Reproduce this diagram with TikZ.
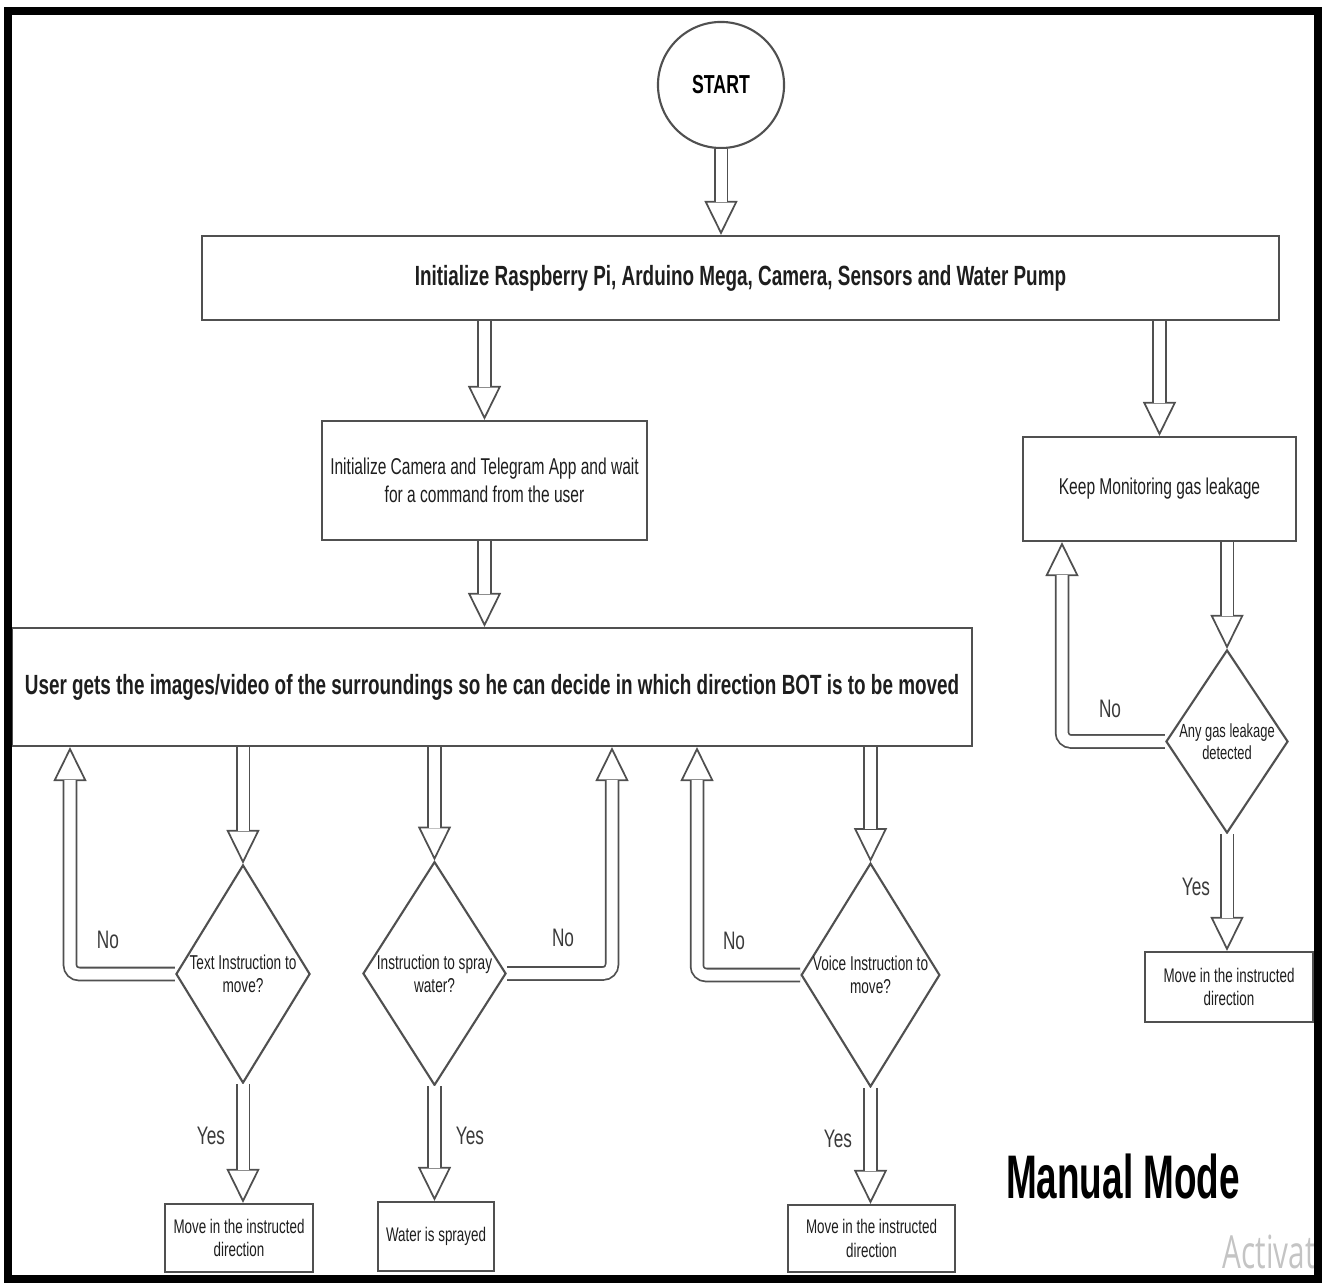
\documentclass[tikz,border=0pt]{standalone}
\usepackage{fontspec}
\setmainfont[FakeStretch=0.68]{Liberation Sans}
\newfontfamily\modefont[FakeStretch=0.6]{Liberation Sans}
\newfontfamily\wmfont[FakeStretch=0.65]{Open Sans}
\usetikzlibrary{arrows.meta,calc,positioning,shapes.geometric}
\definecolor{FlowLine}{HTML}{505050}
\definecolor{FlowText}{HTML}{1E1E1E}
\definecolor{FlowLabel}{HTML}{3A3A3A}
\definecolor{WinMark}{HTML}{C4C4C4}

% hollow block arrow: open head first, then the double shaft over its centre line
\newcommand{\hollowarrow}[1]{%
  \draw[pipehead] #1;
  \draw[pipeshaft] #1;}

\begin{document}
\begin{tikzpicture}[
  x=0.01cm,y=-0.01cm,
  pipehead/.style={-{Triangle[length=3.4mm,width=3.3mm,fill=white]},
    draw=FlowLine,line width=0.5pt,rounded corners=0.9mm},
  pipeshaft/.style={draw=FlowLine,line width=0.5pt,double=white,
    double distance=1.1mm,shorten >=3.3mm,rounded corners=0.9mm},
  procbox/.style={draw=FlowLine,line width=0.6pt,fill=white,align=center,
    text=FlowText,inner sep=0pt},
  headbox/.style={procbox,font=\bfseries\fontsize{7.9}{9.5}\selectfont},
  stepbox/.style={procbox,font=\fontsize{6.5}{8}\selectfont},
  endbox/.style={procbox,font=\fontsize{5.6}{6.7}\selectfont},
  query/.style={diamond,draw=FlowLine,line width=0.6pt,aspect=0.62,
    inner sep=0pt,align=center,text=FlowText,
    font=\fontsize{5.7}{6.6}\selectfont},
  answer/.style={font=\fontsize{7.2}{8}\selectfont,text=FlowLabel},
  startnode/.style={circle,draw=FlowLine,line width=0.6pt,minimum size=1.26cm,
    inner sep=0pt,font=\bfseries\fontsize{7.4}{9}\selectfont}
]
\useasboundingbox (0,0) rectangle (1325,1283);

% set-up stage
\node[startnode] (start) at (721,85) {START};
\node[headbox,minimum width=10.77cm,minimum height=0.84cm] (init) at (740.5,278)
  {Initialize Raspberry Pi, Arduino Mega, Camera, Sensors and Water Pump};
\node[stepbox,minimum width=3.25cm,minimum height=1.19cm] (telegram) at (484.5,480.5)
  {Initialize Camera and Telegram App and wait\\for a command from the user};
\node[stepbox,minimum width=2.73cm,minimum height=1.04cm] (monitor) at (1159.5,489)
  {Keep Monitoring gas leakage};
\node[headbox,minimum width=9.60cm,minimum height=1.18cm] (view) at (492,687)
  {User gets the images/video of the surroundings so he can decide in which direction BOT is to be moved};

% decisions
\node[query,minimum width=1.34cm,minimum height=2.18cm] (text) at (243,974)
  {Text Instruction to\\move?};
\node[query,minimum width=1.43cm,minimum height=2.23cm] (spray) at (434.5,973.5)
  {Instruction to spray\\water?};
\node[query,minimum width=1.35cm,minimum height=2.20cm] (voice) at (870.5,975)
  {Voice Instruction to\\move?};
\node[query,aspect=0.67,inner sep=-1.5pt,font=\fontsize{5.4}{6.4}\selectfont,
  minimum width=1.22cm,minimum height=1.83cm] (gas) at (1227,741.5)
  {Any gas leakage\\detected};

% outcomes
\node[endbox,minimum width=1.48cm,minimum height=0.68cm] (movetext) at (239,1238)
  {Move in the instructed\\direction};
\node[endbox,minimum width=1.16cm,minimum height=0.69cm] (water) at (436,1236.5)
  {Water is sprayed};
\node[endbox,minimum width=1.67cm,minimum height=0.67cm] (movevoice) at (871.5,1238.5)
  {Move in the instructed\\direction};
\node[endbox,minimum width=1.68cm,minimum height=0.70cm] (movegas) at (1229,987)
  {Move in the instructed\\direction};

\coordinate (backtext) at (70,0 |- view.south);
\coordinate (backspray) at (612,0 |- view.south);
\coordinate (backvoice) at (697,0 |- view.south);
\coordinate (backgas) at (1062,0 |- monitor.south);

\hollowarrow{(start.south) -- (start.south |- init.north)}
\hollowarrow{(telegram.north |- init.south) -- (telegram.north)}
\hollowarrow{(monitor.north |- init.south) -- (monitor.north)}
\hollowarrow{(telegram.south) -- (telegram.south |- view.north)}
\hollowarrow{(text.north |- view.south) -- (text.north)}
\hollowarrow{(spray.north |- view.south) -- (spray.north)}
\hollowarrow{(voice.north |- view.south) -- (voice.north)}
\hollowarrow{(gas.north |- monitor.south) -- (gas.north)}
\hollowarrow{(text.south) -- (text.south |- movetext.north)}
\hollowarrow{(spray.south) -- (spray.south |- water.north)}
\hollowarrow{(voice.south) -- (voice.south |- movevoice.north)}
\hollowarrow{(gas.south) -- (gas.south |- movegas.north)}
\hollowarrow{(text.west) -| (backtext)}
\hollowarrow{(spray.east) -| (backspray)}
\hollowarrow{(voice.west) -| (backvoice)}
\hollowarrow{(gas.west) -| (backgas)}

\node[answer] (notext) at (108,940) {No};
\node[answer] (nospray) at (563,938) {No};
\node[answer] (novoice) at (734,941) {No};
\node[answer] (nogas) at (1110,709) {No};
\node[answer] (yestext) at (211,1136) {Yes};
\node[answer] (yesspray) at (470,1136) {Yes};
\node[answer] (yesvoice) at (838,1139) {Yes};
\node[answer] (yesgas) at (1196,887) {Yes};

\node[font=\modefont\bfseries\fontsize{17.5}{20}\selectfont] (mode) at (1123,1176) {Manual Mode};

\begin{scope}
  \clip (12,15) rectangle (1314,1275);
  \node[anchor=west,inner sep=0pt,text=WinMark,font=\wmfont\fontsize{13}{15}\selectfont]
    (winmark) at (1222,1252) {Activate};
\end{scope}

\draw[line width=0.08cm] (8,11) rectangle (1318,1279);
\end{tikzpicture}
\end{document}
